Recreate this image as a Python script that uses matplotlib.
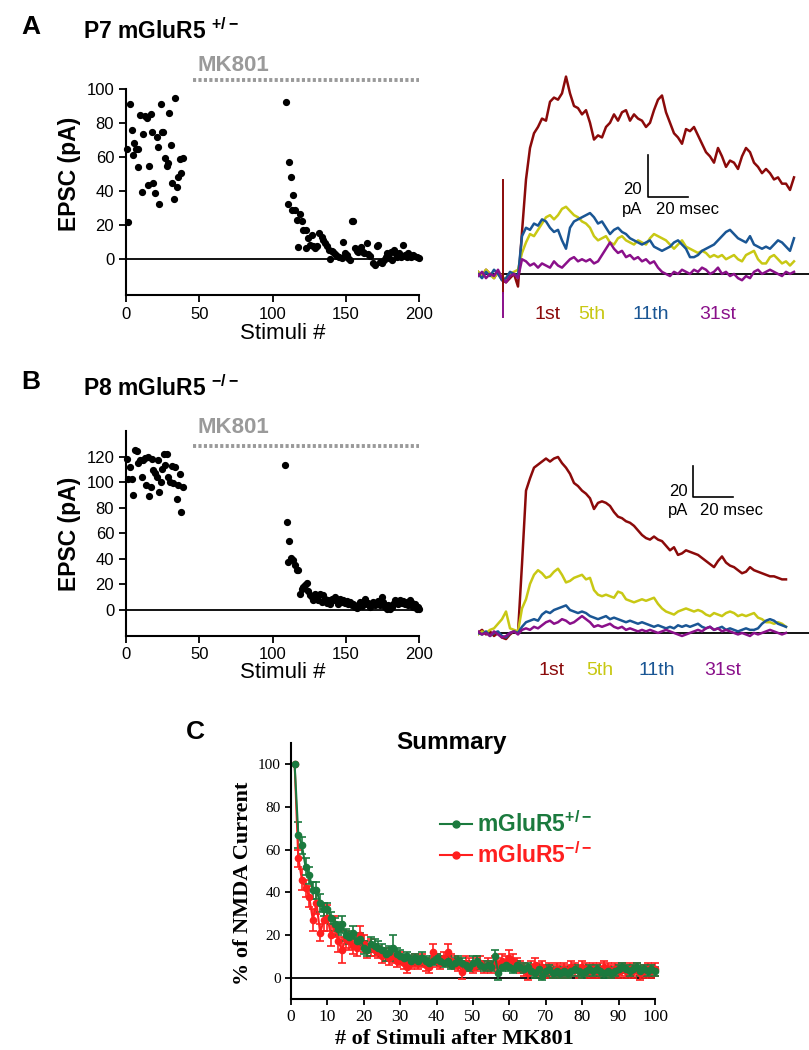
import matplotlib.pyplot as plt
from matplotlib.lines import Line2D
import numpy as np

plt.rcParams['font.family'] = ['Liberation Sans', 'DejaVu Sans']
plt.rcParams['mathtext.fontset'] = 'custom'
plt.rcParams['mathtext.rm'] = 'Liberation Sans'
plt.rcParams['mathtext.bf'] = 'Liberation Sans:bold'

W, H = 809, 1050

# ---------------- panel A scatter (P7 mGluR5 +/-) ----------------
A_PRE_X = [0.5, 1.6, 2.7, 3.9, 5, 5.7, 6.8, 8, 8.4, 9.6, 10.7, 11.8, 13, 14.1, 14.8, 15.9, 16.8, 17.7, 18.7, 19.8,
           20.9, 21.8, 22.8, 23.7, 24.8, 25.5, 26.6, 27.8, 28.4, 29.6, 30.5, 31.6, 32.5, 33.7, 34.6, 35.7, 36.6, 37.5, 38.7]
A_PRE_Y = [65, 22, 91, 76, 61, 68, 65, 54, 65, 84.5, 39.4, 73.5, 84, 83, 43.7, 55, 85.5, 74.7, 45, 39.2,
           71.8, 65.7, 32.5, 91, 74.7, 75, 59.4, 54.5, 56.5, 86, 67, 45, 35.5, 94.5, 42.4, 48.6, 58.6, 50.6, 59.6]
A_POST_X = [109.2, 110.4, 111.5, 112.4, 113.5, 114.2, 115.4, 116.5, 117.2, 118.8, 119.9, 121, 122.9, 122.9, 124.5,
            125.6, 126.7, 127.9, 129, 130.1, 132, 133.6, 134.7, 135.8, 136.9, 138.6, 139.2, 140.4, 141.5, 142.7,
            144.3, 145.6, 147.2, 148.4, 149.5, 150.6, 151.8, 152.9, 154, 155.2, 156.3, 157.5, 158.6, 160.2, 161.5,
            162.5, 164.3, 165.4, 166.6, 168.4, 169.9, 171, 172.2, 173.4, 175, 176.1, 177.2, 178.4, 179.5, 180.7,
            181.8, 182.9, 184.1, 185.2, 186.3, 187.5, 189.3, 190.4, 191.6, 192.7, 194.3, 195.7, 196.8, 198.4, 199.8]
A_POST_Y = [92.2, 32.4, 56.9, 48.2, 29.2, 38, 29, 23.1, 7, 26.5, 22.7, 16.9, 16.9, 6.5, 12.4,
            8.4, 14, 7.5, 6.5, 7.5, 15.7, 13.3, 11.4, 9.8, 7.5, 5.5, 0, 5.1, 4.5, 3.1,
            2, 1.6, 0.6, 10, 3.5, 2.5, 0.6, -0.4, 22.4, 22.2, 6.5, 5.1, 4.1, 7, 4.5,
            3.5, 9.4, 3.1, 2, -2.4, -3.3, 7.5, 8.4, -1.4, -2.4, -0.4, 1.6, 3.5, 0.6, 4.5,
            -0.4, 5.5, 3.1, 1.6, 3.5, 1.2, 8.4, 2.5, 1.6, 3.5, 1.2, 2.5, 2, 1.2, 0.6]

# ---------------- panel B scatter (P8 mGluR5 -/-) ----------------
B_PRE_X = [0.5, 1.6, 2.7, 3.9, 5, 6.1, 7.3, 8.4, 9.6, 10.7, 11.8, 13, 13.7, 15.2, 15.9, 16.8, 18, 18.7, 19.8, 20.9,
           21.8, 22.8, 23.9, 24.8, 25.9, 26.8, 27.8, 28.9, 30, 31.2, 32.3, 33.4, 34.6, 35.7, 36.9, 37.8, 38.7]
B_PRE_Y = [118, 102.5, 111.6, 102.5, 90, 125, 124, 115, 117.4, 103.8, 117.4, 118.7, 97.8, 120, 89, 96.5, 118, 109.5,
           107, 103.8, 117.4, 92.5, 99.9, 110, 122, 113.5, 121.8, 104.3, 100.4, 112.7, 99, 112.2, 86.8, 97.8, 106.4,
           76.9, 96]
B_POST_X = [108.5, 109.7, 110.8, 111.5, 112.4, 113.8, 115.4, 116.5, 117.6, 118.8, 119.9, 121, 122.2, 123.3, 124.5,
            125.6, 126.7, 127.9, 129, 130.1, 131.3, 132.4, 133.6, 134.7, 135.8, 136.9, 138.1, 139.2, 140.4, 141.5,
            142.7, 143.8, 144.9, 146.1, 147.2, 148.4, 149.5, 150.6, 151.8, 152.9, 154, 155.2, 156.3, 157.5, 158.6,
            159.7, 160.9, 162, 163.1, 164.3, 165.4, 166.6, 167.7, 168.8, 169.9, 171, 172.2, 173.4, 174.5, 175.7,
            176.8, 177.9, 179.1, 180.2, 181.3, 182.5, 183.6, 184.8, 185.9, 187, 188.2, 189.3, 190.4, 191.6, 192.7,
            193.9, 195, 196.1, 197.3, 198.4, 199.5, 200]
B_POST_Y = [113.5, 69, 37.6, 54.1, 40.3, 39, 35, 31.6, 31.1, 12.8, 16.7, 18, 19.3, 21.2, 14.9,
            11.5, 10.2, 7.6, 12.8, 10.2, 7.6, 12.8, 6.3, 11.5, 8.9, 5.5, 7.6, 4.4, 8.9, 7.6,
            10.2, 7.1, 4.4, 8.9, 6.3, 7.6, 5.5, 7.1, 4.4, 6.3, 3.7, 5, 2.4, 1.8, 3.7,
            6.3, 2.9, 5, 8.9, 4.4, 5.5, 2.4, 4.4, 6.3, 3.7, 5.5, 7.1, 3.7, 10.2, 6.3,
            2.4, 1, 3.7, 1, 2.4, 5, 7.6, 6.3, 4.4, 7.6, 5.5, 7.1, 4.4, 6.3, 3.7,
            7.6, 5.5, 2.4, 4.4, 1, 2.4, 1]

# ---------------- example current traces (pA), sampled every 2 ms ----------------
DT = 2.0
RED_A = [1, -1, 2, 0, -2, 1, -3, -4, -2, 0, -6,
         20, 45, 60, 67, 70, 74, 73, 82, 84, 83, 86, 94, 86, 80, 79, 76, 78, 72, 64, 66,
         65, 70, 72, 76, 73, 77, 78, 73, 76, 74, 73, 70, 72, 78, 83, 85, 77, 72, 67, 65,
         62, 69, 68, 70, 66, 62, 58, 56, 53, 60, 56, 51, 54, 53, 50, 56, 60, 58, 53, 51,
         48, 50, 48, 45, 46, 43, 43, 40, 46]
YEL_A = [1, -1, 2, 0, -2, 1, -1, -3, 0, 1, 2,
         10, 15, 19, 18, 21, 24, 27, 28, 26, 28, 31, 32, 30, 28, 27, 25, 24, 22, 18, 16,
         17, 18, 15, 14, 17, 18, 16, 15, 14, 16, 15, 14, 17, 19, 18, 17, 16, 14, 12, 14,
         16, 13, 12, 11, 10, 11, 10, 8, 9, 8, 9, 7, 8, 9, 7, 6, 9, 10, 11, 7,
         5, 5, 8, 9, 7, 5, 6, 4, 6]
BLU_A = [0, -2, 1, -1, 2, 0, -3, -2, 1, 0, -1,
         18, 22, 21, 24, 23, 26, 25, 22, 20, 21, 16, 12, 22, 25, 26, 27, 28, 29, 27, 24,
         25, 22, 19, 21, 22, 20, 19, 17, 16, 15, 14, 15, 16, 13, 12, 11, 12, 13, 15, 16,
         14, 12, 8, 8, 9, 11, 12, 13, 14, 16, 18, 20, 21, 19, 17, 16, 15, 18, 14, 13,
         12, 13, 12, 14, 16, 15, 13, 11, 17]
PUR_A = [-1, 1, -2, 0, -1, 2, -2, -4, -1, 0, -2,
         7, 6, 4, 5, 3, 5, 4, 3, 6, 4, 3, 5, 7, 8, 6, 7, 6, 7, 5, 6,
         9, 12, 15, 12, 10, 11, 8, 9, 7, 8, 6, 7, 5, 6, 3, 1, 0, -1, 1, 0,
         2, 1, 0, 2, 1, 3, 2, 0, 1, 3, 0, 1, -1, 0, -2, -3, -1, -2, 1, 2,
         0, 1, 2, 1, 0, -1, 1, 0, 1]

RED_B = [0, 2, -1, 1, -2, 0, -3, -4, -1, 1, 0,
         45, 93, 101, 108, 110, 112, 114, 112, 114, 115, 111, 108, 104, 98, 96, 93, 91, 88, 81, 85,
         86, 85, 83, 79, 76, 75, 73, 72, 70, 67, 64, 62, 61, 63, 61, 60, 57, 54, 56, 51,
         52, 54, 53, 52, 51, 49, 47, 45, 43, 47, 50, 46, 44, 43, 41, 39, 40, 43, 41, 40,
         39, 38, 37, 37, 36, 35, 35]
YEL_B = [-1, 1, 0, 2, 3, 6, 9, 14, 3, 2, 1,
         16, 22, 32, 38, 41, 39, 36, 37, 40, 42, 38, 33, 34, 36, 37, 38, 35, 36, 28, 25,
         24, 25, 24, 23, 27, 26, 22, 21, 20, 21, 22, 21, 22, 23, 19, 16, 14, 13, 12, 14,
         15, 16, 15, 14, 15, 14, 12, 11, 13, 12, 11, 13, 14, 13, 11, 12, 11, 12, 13, 10,
         9, 7, 7, 6, 7, 6, 4]
BLU_B = [0, -1, 1, -2, 0, 1, -2, -3, 0, 1, 0,
         4, 7, 8, 9, 8, 12, 14, 13, 15, 16, 17, 18, 15, 14, 13, 14, 13, 11, 10, 9,
         10, 11, 9, 10, 9, 8, 7, 8, 7, 6, 7, 6, 5, 4, 5, 4, 3, 4, 3, 5,
         4, 5, 4, 5, 6, 4, 3, 4, 2, 3, 4, 2, 3, 2, 1, 2, 3, 2, 2, 3,
         6, 8, 9, 8, 6, 5, 4]
PUR_B = [1, -1, 0, -2, 1, -1, -3, -2, 0, 1, -1,
         2, 3, 2, 4, 3, 5, 7, 8, 6, 7, 9, 8, 6, 7, 9, 11, 9, 7, 4, 5,
         4, 5, 6, 4, 3, 4, 2, 3, 2, 1, 2, 1, 2, 1, 0, 1, 2, 1, 0, -1,
         -2, -1, 0, 1, 2, 1, 3, 4, 2, 3, 1, 2, 1, 0, -1, 0, -1, -2, 0, -1,
         0, 1, 2, 1, 0, -1, 0]

TRACE_LABELS = ['1st', '5th', '11th', '31st']
TRACE_COLORS = ['#8b0a0a', '#c8c814', '#1a5694', '#8a108a']

# ---------------- panel C summary ----------------
STIM_C = list(range(1, 101))
HET_MEAN = [100, 67, 62, 52, 48, 41, 41, 35, 32, 32,
            28, 25, 23, 25, 20, 19, 21, 17, 18, 14,
            13, 16, 15, 14, 13, 11, 12, 14, 11, 10,
            9, 10, 8, 9, 8, 9, 8, 7, 8, 9,
            8, 7, 8, 6, 7, 8, 7, 6, 5, 7,
            8, 6, 5, 6, 5, 10, 2, 5, 6, 5,
            4, 6, 5, 4, 5, 3, 2, 4, 1, 3,
            4, 2, 3, 2, 3, 2, 3, 4, 3, 2,
            3, 4, 3, 4, 3, 2, 3, 2, 3, 4,
            5, 4, 3, 4, 5, 3, 4, 3, 4, 3]
HET_ERR = [0, 6, 4, 4, 4, 4, 4, 4, 3, 3,
           3, 3, 3, 4, 3, 3, 3, 3, 3, 3,
           3, 3, 3, 3, 3, 3, 3, 6, 3, 3,
           2, 2, 2, 2, 2, 3, 2, 2, 2, 2,
           2, 2, 2, 2, 2, 2, 2, 2, 2, 3,
           2, 2, 2, 2, 2, 3, 3, 2, 2, 2,
           2, 2, 2, 2, 2, 2, 2, 2, 2, 2,
           2, 2, 2, 2, 2, 2, 2, 2, 2, 2,
           2, 2, 2, 2, 2, 2, 2, 2, 2, 2,
           2, 2, 2, 2, 2, 2, 2, 2, 2, 2]
KO_MEAN = [100, 56, 46, 42, 38, 27, 35, 21, 27, 28,
           20, 24, 17, 13, 18, 17, 15, 14, 20, 16,
           13, 14, 13, 12, 10, 11, 9, 10, 8, 9,
           7, 5, 7, 8, 7, 8, 6, 5, 12, 8,
           7, 9, 12, 8, 7, 6, 2.5, 7, 6, 5,
           6, 7, 5, 6, 5, 7, 6, 8, 7, 9,
           8, 6, 5, 4, 2, 5, 6, 4, 5, 3,
           4, 3, 4, 3, 4, 3, 5, 4, 3, 5,
           4, 3, 4, 3, 4, 5, 4, 3, 4, 3,
           4, 3, 4, 3, 4, 2, 3, 4, 3, 4]
KO_ERR = [0, 4, 5, 4, 5, 5, 5, 4, 5, 6,
          5, 5, 5, 6, 4, 4, 4, 4, 4, 4,
          4, 4, 3, 3, 3, 3, 3, 3, 3, 3,
          3, 3, 3, 3, 3, 3, 3, 3, 4, 3,
          3, 3, 4, 3, 3, 3, 3, 3, 3, 3,
          3, 3, 3, 3, 3, 3, 3, 3, 3, 4,
          3, 3, 3, 3, 3, 3, 3, 3, 3, 3,
          3, 3, 3, 3, 3, 3, 3, 3, 3, 3,
          3, 3, 3, 3, 3, 3, 3, 3, 3, 3,
          3, 3, 3, 3, 3, 3, 3, 3, 3, 3]
HET_COLOR = '#1b7a3e'
KO_COLOR = '#ff1f1f'
MK_GRAY = '#9a9a9a'


def fx(px):
    return px / W


def fy(py):
    return 1 - py / H


def box(left, top, right, bottom):
    return [fx(left), fy(bottom), (right - left) / W, (bottom - top) / H]


def scatter_panel(ax, pre_x, pre_y, post_x, post_y, ylim, yticks, mk_y, mk_text_y, ylab_y, xlab_y):
    ax.plot(pre_x, pre_y, 'o', color='black', ms=4.2, clip_on=False)
    ax.plot(post_x, post_y, 'o', color='black', ms=4.2, clip_on=False)
    ax.axhline(0, color='black', lw=1.3)
    ax.set_xlim(0, 200)
    ax.set_ylim(*ylim)
    ax.set_xticks([0, 50, 100, 150, 200])
    ax.set_yticks(yticks)
    for s in ['top', 'right']:
        ax.spines[s].set_visible(False)
    for s in ['left', 'bottom']:
        ax.spines[s].set_linewidth(1.5)
    ax.tick_params(direction='out', length=5, width=1.3, labelsize=12)
    ax.set_ylabel('EPSC (pA)', fontsize=16.5, fontweight='bold')
    ax.yaxis.set_label_coords(-0.152, ylab_y)
    ax.set_xlabel('Stimuli #', fontsize=16)
    ax.xaxis.set_label_coords(0.536, xlab_y)
    # MK801 application bar
    ax.plot([45.7, 200], [mk_y, mk_y], color=MK_GRAY, lw=2.8, ls=(0, (0.8, 0.6)), clip_on=False)
    ax.text(48.5, mk_text_y, 'MK801', color=MK_GRAY, fontsize=16, fontweight='bold',
            va='center', ha='left', clip_on=False)


def trace_panel(ax, traces, xlim, ylim, label_y, label_x, bar_x, bar_y, t20_x, pa_y):
    for vals, color in zip(traces, TRACE_COLORS):
        t = np.arange(len(vals)) * DT
        ax.plot(t, vals, color=color, lw=1.8)
    ax.axhline(0, color='black', lw=1.3, zorder=0)
    for lbl, col, x in zip(TRACE_LABELS, TRACE_COLORS, label_x):
        ax.text(x, label_y, lbl, color=col, fontsize=14, ha='center', va='center')
    # scale bar: 20 pA / 20 msec
    ax.plot([bar_x, bar_x, bar_x + 20], [bar_y + 20, bar_y, bar_y], color='black', lw=1.2)
    ax.text(t20_x, bar_y + 3.5, '20', fontsize=12, ha='center', va='center')
    ax.text(t20_x, pa_y, 'pA', fontsize=12, ha='center', va='center')
    ax.text(bar_x + 19.5, pa_y, '20 msec', fontsize=12, ha='center', va='center')
    ax.set_xlim(*xlim)
    ax.set_ylim(*ylim)
    ax.axis('off')


fig = plt.figure(figsize=(W / 100, H / 100), dpi=100)

# ---- A ----
fig.text(fx(21), fy(27), 'A', fontsize=19, fontweight='bold', va='center')
fig.text(fx(83), fy(31), r'P7 mGluR5 $^{\mathbf{+/-}}$', fontsize=16.5, fontweight='bold', va='center')
axA = fig.add_axes(box(126, 89, 419, 295))
scatter_panel(axA, A_PRE_X, A_PRE_Y, A_POST_X, A_POST_Y, (-21, 100), [0, 20, 40, 60, 80, 100],
              105, 114, 0.587, -0.135)

axAt = fig.add_axes(box(478, 60, 809, 330))
trace_panel(axAt, [RED_A, YEL_A, BLU_A, PUR_A], (0, 165.5), (-26.7, 101.9),
            -19.5, [35, 57, 86.5, 120], 85, 36.7, 77, 30.5)
# stimulus artifact
axAt.plot([12.5, 12.5], [-9, 44.8], color=TRACE_COLORS[0], lw=1.4)
axAt.plot([12.5, 12.5], [-20.5, -9], color=TRACE_COLORS[3], lw=1.4)

# ---- B ----
fig.text(fx(21), fy(382), 'B', fontsize=19, fontweight='bold', va='center')
fig.text(fx(83), fy(388), r'P8 mGluR5 $^{\mathbf{-/-}}$', fontsize=16.5, fontweight='bold', va='center')
axB = fig.add_axes(box(126, 431, 419, 635.5))
scatter_panel(axB, B_PRE_X, B_PRE_Y, B_POST_X, B_POST_Y, (-20, 140), [0, 20, 40, 60, 80, 100, 120],
              128.6, 143, 0.496, -0.13)

axBt = fig.add_axes(box(478, 440, 809, 690))
trace_panel(axBt, [RED_B, YEL_B, BLU_B, PUR_B], (0, 165.5), (-37.3, 126.1),
            -24.8, [37, 61, 89.5, 122.5], 107.5, 88.9, 100, 79.7)

# ---- C ----
fig.text(fx(186), fy(732), 'C', fontsize=19, fontweight='bold', va='center')
fig.text(fx(452), fy(742), 'Summary', fontsize=17.5, fontweight='bold', ha='center', va='center')
axC = fig.add_axes(box(291, 743, 655, 999))
axC.errorbar(STIM_C, KO_MEAN, yerr=KO_ERR, fmt='-o', color=KO_COLOR, ms=4.5, lw=1.5,
             elinewidth=1.2, capsize=3, capthick=1.2, clip_on=False)
axC.errorbar(STIM_C, HET_MEAN, yerr=HET_ERR, fmt='-o', color=HET_COLOR, ms=4.5, lw=1.5,
             elinewidth=1.2, capsize=3, capthick=1.2, clip_on=False)
axC.axhline(0, color='black', lw=1.3, zorder=0)
axC.set_xlim(0, 100)
axC.set_ylim(-10, 110)
axC.set_xticks(range(0, 101, 10))
axC.set_yticks(range(0, 101, 20))
for s in ['top', 'right']:
    axC.spines[s].set_visible(False)
for s in ['left', 'bottom']:
    axC.spines[s].set_linewidth(1.5)
axC.tick_params(direction='out', length=4, width=1.3)
axC.tick_params(axis='y', labelsize=11)
axC.tick_params(axis='x', labelsize=12.5)
for lbl in axC.get_xticklabels() + axC.get_yticklabels():
    lbl.set_family('Liberation Serif')
axC.set_ylabel('% of NMDA Current', fontsize=16, fontweight='bold', family='Liberation Serif')
axC.yaxis.set_label_coords(-0.105, 0.453)
axC.set_xlabel('# of Stimuli after MK801', fontsize=16, fontweight='bold', family='Liberation Serif')
axC.xaxis.set_label_coords(0.45, -0.118)

handles = [Line2D([], [], color=HET_COLOR, marker='o', ms=5, lw=1.5),
           Line2D([], [], color=KO_COLOR, marker='o', ms=5, lw=1.5)]
axC.legend(handles, [r'mGluR5$^{\mathbf{+/-}}$', r'mGluR5$^{\mathbf{-/-}}$'],
           loc='upper left', bbox_to_anchor=(0.41, 0.735), frameon=False, borderpad=0, borderaxespad=0,
           handlelength=1.4, handletextpad=0.2, labelspacing=0.25,
           prop={'weight': 'bold', 'size': 16.5}, labelcolor=[HET_COLOR, KO_COLOR])

fig.savefig('out.png', dpi=100)
